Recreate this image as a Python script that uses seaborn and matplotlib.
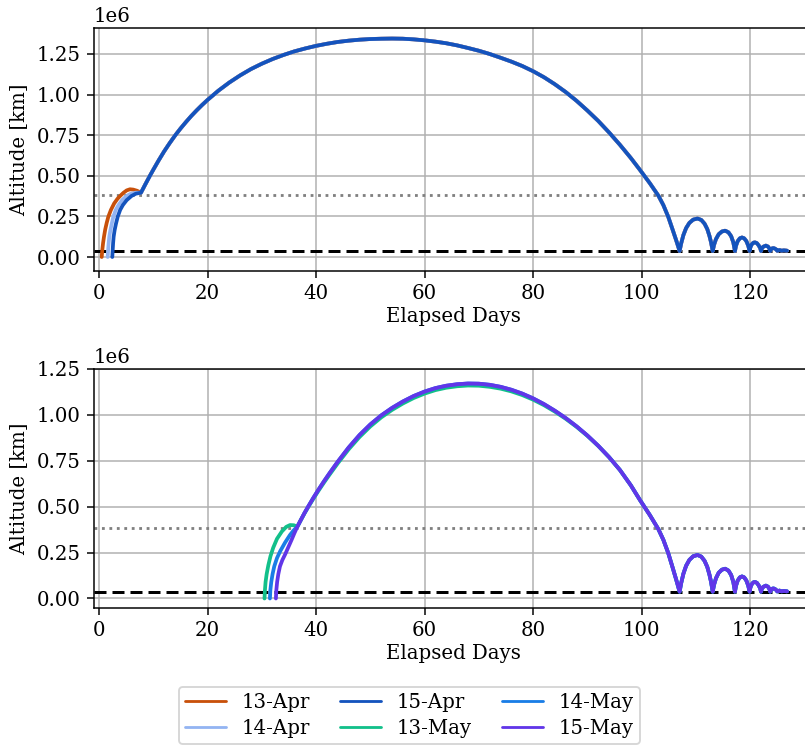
import matplotlib
matplotlib.use("Agg")
import matplotlib.pyplot as plt
from matplotlib.lines import Line2D
import numpy as np
import pandas as pd
import seaborn as sns

MKM = 1e6  # altitudes below are given in millions of km

# --- April launches: launch leg up to the lunar flyby -----------------------
apr13_days = [0.5, 0.6, 0.75, 0.92, 1.15, 1.42, 1.72, 2.2, 2.8, 3.4, 3.9, 4.5, 5.1,
              5.7, 6.3, 7.0, 7.74]
apr13_alt = [0.0, 0.04, 0.085, 0.125, 0.17, 0.21, 0.248, 0.29, 0.33, 0.358, 0.376,
             0.395, 0.41, 0.417, 0.415, 0.408, 0.396]

apr14_days = [1.6, 1.68, 1.78, 1.9, 2.1, 2.35, 2.64, 3.1, 3.6, 4.3, 5.1, 5.9, 6.8, 7.74]
apr14_alt = [0.0, 0.04, 0.085, 0.125, 0.165, 0.205, 0.248, 0.29, 0.32, 0.352, 0.376,
             0.39, 0.396, 0.396]

apr15_days = [2.45, 2.52, 2.6, 2.7, 2.88, 3.13, 3.45, 3.9, 4.4, 5.1, 6.0, 6.8, 7.74]
apr15_alt = [0.0, 0.04, 0.085, 0.125, 0.165, 0.205, 0.248, 0.29, 0.32, 0.35, 0.376,
             0.39, 0.396]

# April: large post-flyby arc
apr_arc_days = [8.5, 9.3, 10, 11, 12, 13, 14, 15, 16, 17, 18, 19, 20, 22, 24, 26, 28,
                30, 32, 34, 36, 38, 40, 42, 44, 46, 48, 50, 52, 54, 56, 58, 60, 62, 64,
                66, 68, 70, 72, 74, 76, 78, 80, 82, 84, 86, 88, 90, 92, 94, 96, 98]
apr_arc_alt = [0.445, 0.495, 0.537, 0.595, 0.65, 0.70, 0.747, 0.79, 0.83, 0.868, 0.903,
               0.936, 0.967, 1.024, 1.074, 1.118, 1.157, 1.19, 1.219, 1.244, 1.266,
               1.284, 1.30, 1.313, 1.324, 1.332, 1.338, 1.342, 1.344, 1.345, 1.344,
               1.340, 1.334, 1.326, 1.316, 1.303, 1.287, 1.270, 1.250, 1.227, 1.203,
               1.176, 1.144, 1.107, 1.064, 1.016, 0.962, 0.902, 0.838, 0.767, 0.691,
               0.610]

# --- May launches ------------------------------------------------------------
may13_days = [30.5, 30.58, 30.7, 30.9, 31.2, 31.6, 32.1, 32.8, 33.7, 34.5, 35.2, 35.9,
              36.55]
may13_alt = [0.0, 0.045, 0.09, 0.133, 0.18, 0.23, 0.276, 0.325, 0.365, 0.39, 0.400,
             0.399, 0.391]

may14_days = [31.5, 31.58, 31.75, 31.99, 32.3, 32.8, 33.4, 34.3, 35.2, 35.9, 36.55]
may14_alt = [0.0, 0.045, 0.09, 0.133, 0.175, 0.22, 0.258, 0.305, 0.346, 0.372, 0.391]

may15_days = [32.6, 32.68, 32.83, 33.05, 33.35, 33.8, 34.3, 34.9, 35.5, 36.0, 36.55]
may15_alt = [0.0, 0.045, 0.09, 0.133, 0.175, 0.21, 0.24, 0.28, 0.32, 0.355, 0.391]

may_arc_days = [37.2, 37.9, 38.6, 39.5, 40.5, 41.5, 42.5, 44, 46, 48, 50, 52, 54, 56,
                58, 60, 62, 64, 66, 68, 70, 72, 74, 76, 78, 80, 82, 84, 86, 88, 90, 92,
                94, 96, 98]
may_arc_alt = [0.428, 0.467, 0.503, 0.548, 0.595, 0.64, 0.683, 0.745, 0.822, 0.89,
               0.948, 0.997, 1.038, 1.073, 1.103, 1.127, 1.146, 1.159, 1.167, 1.171,
               1.17, 1.164, 1.153, 1.137, 1.116, 1.09, 1.059, 1.023, 0.983, 0.938,
               0.888, 0.832, 0.77, 0.70, 0.617]
may13_arc_alt = [0.427, 0.465, 0.50, 0.543, 0.589, 0.633, 0.675, 0.736, 0.812, 0.879,
                 0.937, 0.986, 1.027, 1.062, 1.092, 1.116, 1.135, 1.148, 1.156, 1.160,
                 1.159, 1.153, 1.143, 1.128, 1.108, 1.083, 1.053, 1.018, 0.979, 0.935,
                 0.886, 0.831, 0.77, 0.70, 0.617]

# --- common perigee pass and decaying bounces ------------------------------------
tail_days = [99.7, 101.5, 103.1, 104.0, 104.9, 105.7, 106.4, 107.0,
             107.3, 107.7, 108.2, 108.8, 109.5, 110.3, 111.0, 111.6, 112.1, 112.5,
             112.8, 113.1,
             113.35, 113.7, 114.2, 114.8, 115.4, 116.0, 116.5, 116.9, 117.2,
             117.4, 117.7, 118.1, 118.5, 118.9, 119.3, 119.65, 119.9,
             120.05, 120.3, 120.6, 120.9, 121.25, 121.6, 121.85, 122.0,
             122.15, 122.4, 122.9, 123.3, 123.55, 123.7,
             123.85, 124.05, 124.3, 124.6, 124.85, 125.0,
             125.4, 125.8, 126.2, 126.8]
tail_alt = [0.536, 0.455, 0.377, 0.32, 0.248, 0.17, 0.10, 0.037,
            0.085, 0.135, 0.178, 0.21, 0.23, 0.237, 0.228, 0.205, 0.172, 0.13,
            0.09, 0.037,
            0.075, 0.11, 0.14, 0.157, 0.162, 0.152, 0.128, 0.09, 0.037,
            0.07, 0.097, 0.115, 0.12, 0.115, 0.098, 0.07, 0.037,
            0.06, 0.078, 0.088, 0.09, 0.085, 0.07, 0.055, 0.037,
            0.052, 0.063, 0.07, 0.064, 0.052, 0.037,
            0.047, 0.053, 0.055, 0.051, 0.045, 0.038,
            0.043, 0.039, 0.041, 0.039]

GEO_ALT = 35786.0      # km
MOON_DIST = 384400.0   # km

top_labels = ["13-Apr", "14-Apr", "15-Apr"]
bottom_labels = ["13-May", "14-May", "15-May"]
colors = {
    "13-Apr": "#c8500a",
    "14-Apr": "#93b4f2",
    "15-Apr": "#1453bd",
    "13-May": "#12c08a",
    "14-May": "#1a7de6",
    "15-May": "#6136e8",
}


def trajectory(name, leg_days, leg_alt, arc_days, arc_alt):
    days = list(leg_days) + list(arc_days) + list(tail_days)
    alt = list(leg_alt) + list(arc_alt) + list(tail_alt)
    return pd.DataFrame({"day": days, "alt": np.array(alt) * MKM, "launch": name})


top_df = pd.concat([
    trajectory("13-Apr", apr13_days, apr13_alt, apr_arc_days, apr_arc_alt),
    trajectory("14-Apr", apr14_days, apr14_alt, apr_arc_days, apr_arc_alt),
    trajectory("15-Apr", apr15_days, apr15_alt, apr_arc_days, apr_arc_alt),
], ignore_index=True)

bottom_df = pd.concat([
    trajectory("13-May", may13_days, may13_alt, may_arc_days, may13_arc_alt),
    trajectory("14-May", may14_days, may14_alt, may_arc_days, may_arc_alt),
    trajectory("15-May", may15_days, may15_alt, may_arc_days, may_arc_alt),
], ignore_index=True)

sns.set_theme(style="ticks")
FS = 10.5
plt.rcParams.update({
    "font.family": ["DejaVu Serif"],
    "font.size": FS,
    "axes.edgecolor": "black",
    "axes.linewidth": 0.8,
    "xtick.color": "black",
    "ytick.color": "black",
    "xtick.labelsize": FS,
    "ytick.labelsize": FS,
    "axes.labelsize": FS,
    "legend.fontsize": FS,
    "xtick.major.size": 3.5,
    "ytick.major.size": 3.5,
    "xtick.major.width": 0.8,
    "ytick.major.width": 0.8,
    "axes.labelcolor": "black",
    "text.color": "black",
})

DPI = 135
fig = plt.figure(figsize=(805 / DPI, 747 / DPI), dpi=DPI)
W, H = 805.0, 747.0
ax_top = fig.add_axes([94 / W, 1 - 271 / H, (812 - 94) / W, 243 / H])
ax_bot = fig.add_axes([94 / W, 1 - 608 / H, (812 - 94) / W, 239 / H])

panels = [
    (ax_top, top_df, top_labels, (-0.0862 * MKM, 1.410 * MKM)),
    (ax_bot, bottom_df, bottom_labels, (-0.0518 * MKM, 1.2243 * MKM)),
]

for ax, df, labels, ylim in panels:
    ax.grid(True, color="#b0b0b0", linewidth=0.8)
    ax.set_axisbelow(True)
    ax.axhline(MOON_DIST, color="gray", linestyle=(0, (1, 1.65)), linewidth=1.5, zorder=1)
    ax.axhline(GEO_ALT, color="black", linestyle=(0, (4, 2)), linewidth=1.6, zorder=1)
    sns.lineplot(data=df, x="day", y="alt", hue="launch", hue_order=labels,
                 palette=[colors[l] for l in labels], sort=False, estimator=None,
                 linewidth=2.0, legend=False, ax=ax, zorder=3)
    ax.set_xlim(-0.92, 131.4)
    ax.set_ylim(*ylim)
    ax.set_xticks([0, 20, 40, 60, 80, 100, 120])
    ax.set_yticks(np.array([0.0, 0.25, 0.5, 0.75, 1.0, 1.25]) * MKM)
    ax.set_xlabel("Elapsed Days", labelpad=2)
    ax.set_ylabel("Altitude [km]")
    for s in ax.spines.values():
        s.set_visible(True)

order = ["13-Apr", "14-Apr", "15-Apr", "13-May", "14-May", "15-May"]
handles = [Line2D([], [], color=colors[n], linewidth=1.5) for n in order]
fig.legend(handles, order, ncol=3, loc="upper center",
           bbox_to_anchor=(409.5 / W, 1 - 677 / H), frameon=True,
           handlelength=2.1, columnspacing=1.5, labelspacing=0.38, borderpad=0.3,
           fancybox=True, edgecolor="#cccccc")

fig.savefig("out.png", dpi=DPI)
